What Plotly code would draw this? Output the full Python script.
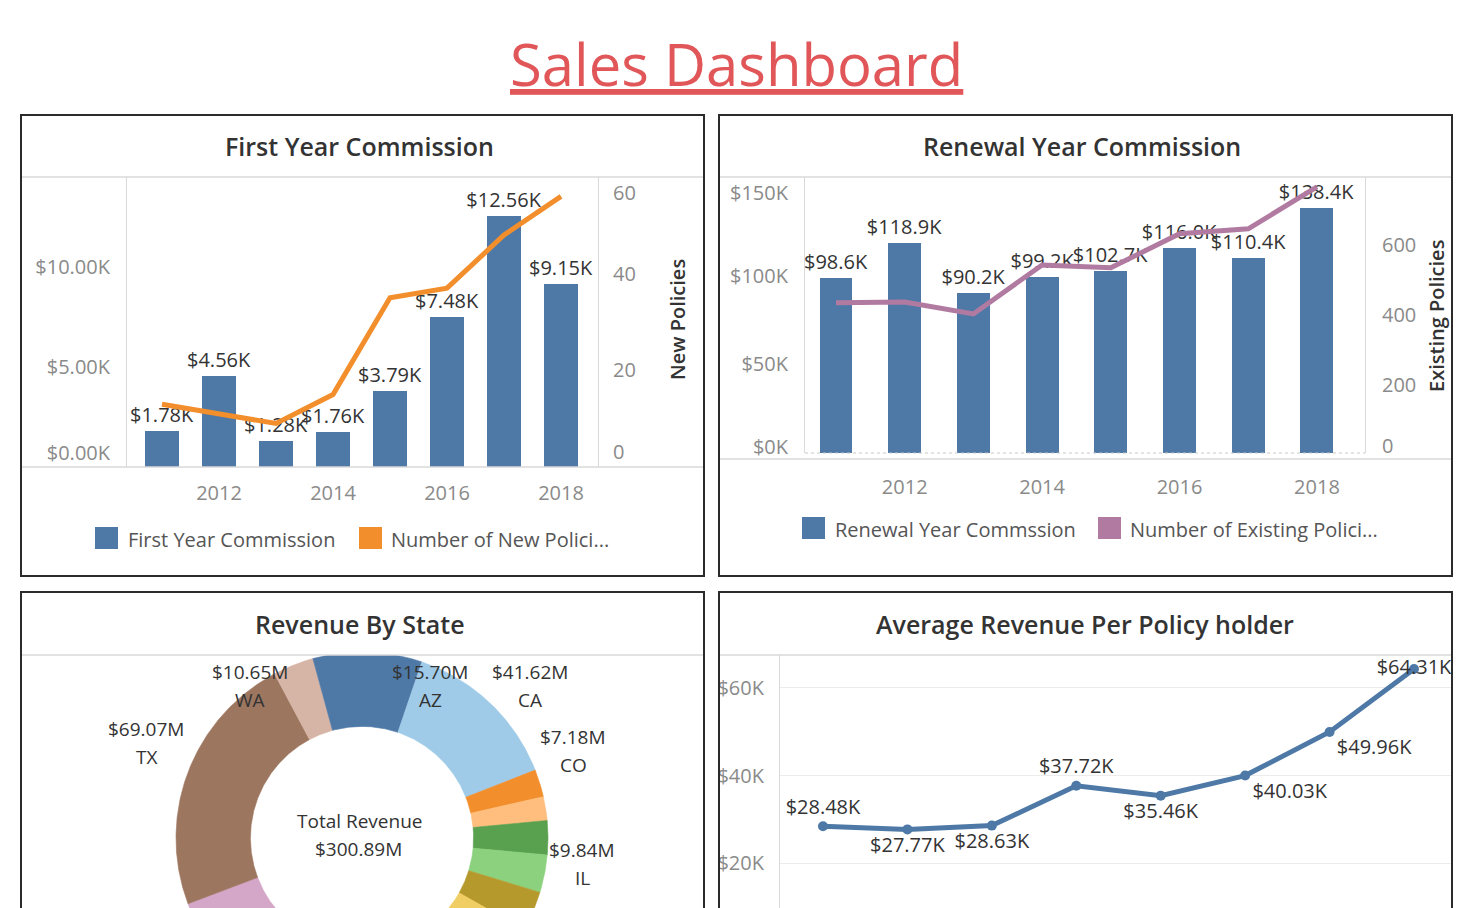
import numpy as np
import plotly.graph_objects as go

W, H = 1472, 908
FONT = "Open Sans"

# ---------------- data ----------------
years = [2011, 2012, 2013, 2014, 2015, 2016, 2017, 2018]
year_ticks = [2012, 2014, 2016, 2018]

first_year_commission_k = [1.78, 4.56, 1.28, 1.76, 3.79, 7.48, 12.56, 9.15]
new_policies = [13, 11, 9, 15, 35, 37, 48, 56]

renewal_commission_k = [98.6, 118.9, 90.2, 99.2, 102.7, 116.0, 110.4, 138.4]
existing_policies = [429, 431, 397, 537, 529, 626, 640, 760]

avg_revenue_k = [28.48, 27.77, 28.63, 37.72, 35.46, 40.03, 49.96, 64.31]
avg_label_pos = ["top center", "bottom center", "bottom center", "top center",
                 "bottom center", "bottom right", "bottom right", "middle center"]

states = ["AZ", "CA", "CO", "FL", "GA", "IL", "IN", "KS", "MA", "MI", "MN",
          "MO", "NC", "NJ", "NY", "OH", "OR", "PA", "TX", "WA", "WI"]
state_revenue_m = [15.70, 41.62, 7.18, 6.20, 8.90, 9.84, 10.40, 9.30, 4.30, 3.80, 12.50,
                   6.40, 9.70, 8.20, 13.60, 7.90, 12.90, 19.93, 69.07, 10.65, 12.80]
labeled_states = {"AZ": (430, 672), "CA": (530, 672), "CO": (573, 737),
                  "IL": (582, 850), "TX": (146, 729), "WA": (250, 672)}

tableau20 = ["#4e79a7", "#a0cbe8", "#f28e2b", "#ffbe7d", "#59a14f", "#8cd17d",
             "#b6992d", "#f1ce63", "#499894", "#86bcb6", "#e15759", "#ff9d9a",
             "#79706e", "#bab0ac", "#d37295", "#fabfd2", "#b07aa1", "#d4a6c8",
             "#9d7660", "#d7b5a6"]

BLUE, ORANGE, PURPLE = "#4e79a7", "#f28e2b", "#b07aa1"
TICK_GRAY, LABEL_DARK, TITLE_DARK = "#8a8a8a", "#333333", "#333333"
GRID, SEP = "#ececec", "#d9d9d9"

# donut geometry (layout, pixels)
CX, CY, R, HOLE = 362, 838, 186, 0.6


def px(x):
    return x / W


def py(y):
    return 1 - y / H


fig = go.Figure()

# ---------- First Year Commission ----------
fig.add_trace(go.Bar(
    x=years, y=[v * 1000 for v in first_year_commission_k], xaxis="x", yaxis="y",
    marker=dict(color=BLUE, line=dict(width=0)), width=0.58,
    text=[f"${v:.2f}K" for v in first_year_commission_k], textposition="outside",
    constraintext="none", cliponaxis=False,
    textfont=dict(family=FONT, size=20, color=LABEL_DARK), showlegend=False))
fig.add_trace(go.Scatter(
    x=years, y=new_policies, xaxis="x", yaxis="y2", mode="lines",
    line=dict(color=ORANGE, width=5), showlegend=False))

# ---------- Renewal Year Commission ----------
fig.add_trace(go.Bar(
    x=years, y=[v * 1000 for v in renewal_commission_k], xaxis="x2", yaxis="y3",
    marker=dict(color=BLUE, line=dict(width=0)), width=0.48,
    text=[f"${v:.1f}K" for v in renewal_commission_k], textposition="outside",
    constraintext="none", cliponaxis=False,
    textfont=dict(family=FONT, size=20, color=LABEL_DARK), showlegend=False))
fig.add_trace(go.Scatter(
    x=years, y=existing_policies, xaxis="x2", yaxis="y4", mode="lines",
    line=dict(color=PURPLE, width=5), showlegend=False))

# ---------- Revenue by state (donut, clipped by its panel like the original) ----------
total = sum(state_revenue_m)
acc = 0.0
for i, (s, v) in enumerate(zip(states, state_revenue_m)):
    w = v / total * 360
    a = np.radians(np.linspace(acc, acc + w, max(4, int(w * 3))))
    xs = np.concatenate([np.sin(a), HOLE * np.sin(a[::-1])])
    ys = np.concatenate([np.cos(a), HOLE * np.cos(a[::-1])])
    c = tableau20[i % 20]
    fig.add_trace(go.Scatter(
        x=np.append(xs, xs[0]), y=np.append(ys, ys[0]), xaxis="x4", yaxis="y8",
        mode="lines", fill="toself", fillcolor=c, line=dict(color=c, width=0.6),
        name=s, text=f"{s}: ${v:.2f}M", hoverinfo="text", showlegend=False))
    acc += w

# ---------- Average revenue per policy holder ----------
fig.add_trace(go.Scatter(
    x=years, y=[v * 1000 for v in avg_revenue_k], xaxis="x3", yaxis="y5",
    mode="lines+markers+text", line=dict(color=BLUE, width=5),
    marker=dict(color=BLUE, size=10),
    text=[f"${v:.2f}K" for v in avg_revenue_k], textposition=avg_label_pos,
    textfont=dict(family=FONT, size=20, color=LABEL_DARK), cliponaxis=False,
    showlegend=False))

tickfont = dict(family=FONT, size=20, color=TICK_GRAY)
xcommon = dict(showgrid=False, zeroline=False, showline=False, tickvals=year_ticks,
               tickfont=tickfont, ticks="", automargin=False)
hidden = dict(visible=False, showgrid=False, zeroline=False, automargin=False)

fig.update_layout(
    width=W, height=H, margin=dict(l=0, r=0, t=0, b=0, autoexpand=False),
    paper_bgcolor="white", plot_bgcolor="rgba(0,0,0,0)",
    font=dict(family=FONT), bargap=0, hovermode="closest",
    # chart 1
    xaxis=dict(domain=[px(127), px(598)], range=[2010.386, 2018.649], anchor="y",
               ticklabelstandoff=12, **xcommon),
    yaxis=dict(domain=[py(467), py(177)], range=[0, 14500], anchor="x",
               tickvals=[700, 5000, 10000], ticktext=["$0.00K", "$5.00K", "$10.00K"],
               showgrid=False, zeroline=False, showline=True, automargin=False,
               linecolor=SEP, linewidth=1, tickfont=tickfont, ticklabelstandoff=12),
    yaxis6=dict(domain=[py(467), py(177)], range=[0, 14500], anchor="x", overlaying="y",
                tickvals=[5000, 10000], showgrid=True, gridcolor=GRID, showticklabels=False,
                zeroline=False, showline=False, automargin=False, layer="below traces"),
    yaxis2=dict(domain=[py(467), py(177)], range=[0, 60], anchor="x", overlaying="y",
                side="right", tickvals=[3.1, 20, 40, 56.7], ticktext=["0", "20", "40", "60"],
                showgrid=False, zeroline=False, automargin=False,
                showline=True, linecolor=SEP, linewidth=1, tickfont=tickfont,
                ticklabelstandoff=10),
    # chart 2
    xaxis2=dict(domain=[px(805), px(1365)], range=[2010.549, 2018.699], anchor="y3",
                ticklabelstandoff=20, **xcommon),
    yaxis3=dict(domain=[py(453), py(177)], range=[0, 155900], anchor="x2",
                tickvals=[3400, 50000, 100000, 146600],
                ticktext=["$0K", "$50K", "$100K", "$150K"],
                showgrid=False, zeroline=False, showline=True, automargin=False,
                linecolor=SEP, linewidth=1, tickfont=tickfont, ticklabelstandoff=12),
    yaxis7=dict(domain=[py(453), py(177)], range=[0, 155900], anchor="x2", overlaying="y3",
                tickvals=[50000, 100000, 150000], showgrid=True, gridcolor=GRID,
                showticklabels=False, zeroline=False, showline=False, automargin=False,
                layer="below traces"),
    yaxis4=dict(domain=[py(453), py(177)], range=[0, 788], anchor="x2", overlaying="y3",
                side="right", tickvals=[20, 195, 395, 595], ticktext=["0", "200", "400", "600"],
                showgrid=False, zeroline=False, automargin=False,
                showline=True, linecolor=SEP, linewidth=1, tickfont=tickfont,
                ticklabelstandoff=12),
    # chart 4
    xaxis3=dict(domain=[px(780), px(1452)], range=[2010.491, 2018.45], anchor="y5",
                showgrid=False, zeroline=False, showline=False, showticklabels=False,
                automargin=False),
    yaxis5=dict(domain=[py(908), py(655)], range=[9860, 67500], anchor="x3",
                tickvals=[20000, 40000, 60000], ticktext=["$20K", "$40K", "$60K"],
                showgrid=True, gridcolor=GRID, zeroline=False, showline=True,
                automargin=False,
                linecolor=SEP, linewidth=1, tickfont=tickfont, ticklabelstandoff=11),
    # donut frame
    xaxis4=dict(domain=[px(22), px(702)], range=[(22 - CX) / R, (702 - CX) / R],
                anchor="y8", **hidden),
    yaxis8=dict(domain=[py(908), py(655)], range=[(CY - 908) / R, (CY - 655) / R],
                anchor="x4", **hidden),
)

shapes = []
# separators
for (x0, x1, y) in [(21, 703, 177), (719, 1451, 177), (21, 703, 467), (719, 1451, 459),
                    (21, 703, 655), (719, 1451, 655)]:
    shapes.append(dict(type="line", xref="paper", yref="paper", x0=px(x0), x1=px(x1),
                       y0=py(y), y1=py(y), line=dict(color=SEP, width=1.5), layer="above"))
shapes.append(dict(type="line", xref="paper", yref="paper", x0=px(805), x1=px(1365),
                   y0=py(453), y1=py(453), line=dict(color="#c8c8c8", width=1, dash="dot"),
                   layer="above"))
# panel borders
for (x0, y0, x1, y1) in [(21, 115, 704, 576), (719, 115, 1452, 576),
                         (21, 592, 704, 920), (719, 592, 1452, 920)]:
    shapes.append(dict(type="rect", xref="paper", yref="paper", x0=px(x0), x1=px(x1),
                       y0=py(y1), y1=py(y0), line=dict(color="#2b2b2b", width=2),
                       fillcolor="rgba(0,0,0,0)", layer="above"))
# legend swatches
for (x0, y0, c) in [(95, 527, BLUE), (359, 527, ORANGE), (802, 517, BLUE), (1098, 517, PURPLE)]:
    shapes.append(dict(type="rect", xref="paper", yref="paper", x0=px(x0), x1=px(x0 + 23),
                       y0=py(y0 + 22), y1=py(y0), fillcolor=c, line=dict(width=0), layer="above"))

ann = []


def text(t, x, y, size=20, color=LABEL_DARK, xanchor="center", weight=None, angle=0, **kw):
    f = dict(family=FONT, size=size, color=color)
    if weight:
        f["weight"] = weight
    f.update(kw)
    ann.append(dict(text=t, x=px(x), y=py(y), xref="paper", yref="paper", showarrow=False,
                    xanchor=xanchor, yanchor="middle", font=f, textangle=angle))


text("Sales Dashboard", 736, 64, size=58, color="#e15759", lineposition="under")
text("First Year Commission", 359, 146, size=25, color=TITLE_DARK, weight=600)
text("Renewal Year Commission", 1082, 146, size=25, color=TITLE_DARK, weight=600)
text("Revenue By State", 360, 624, size=25, color=TITLE_DARK, weight=600)
text("Average Revenue Per Policy holder", 1085, 624, size=25, color=TITLE_DARK, weight=600)

text("New Policies", 677, 320, size=20, color=TITLE_DARK, weight=600, angle=-90)
text("Existing Policies", 1436, 316, size=20, color=TITLE_DARK, weight=600, angle=-90)

text("First Year Commission", 126, 539, color="#555555", xanchor="left")
text("Number of New Polici...", 389, 539, color="#555555", xanchor="left")
text("Renewal Year Commssion", 833, 529, color="#555555", xanchor="left")
text("Number of Existing Polici...", 1128, 529, color="#555555", xanchor="left")

for s, v in zip(states, state_revenue_m):
    if s in labeled_states:
        lx, ly = labeled_states[s]
        text(f"${v:.2f}M", lx, ly, size=19)
        text(s, lx, ly + 28, size=19)
text("Total Revenue", 360, 821, size=19)
text(f"${total:.2f}M", 358, 849, size=19)

fig.update_layout(shapes=shapes, annotations=ann)
fig.write_html("out.html")
